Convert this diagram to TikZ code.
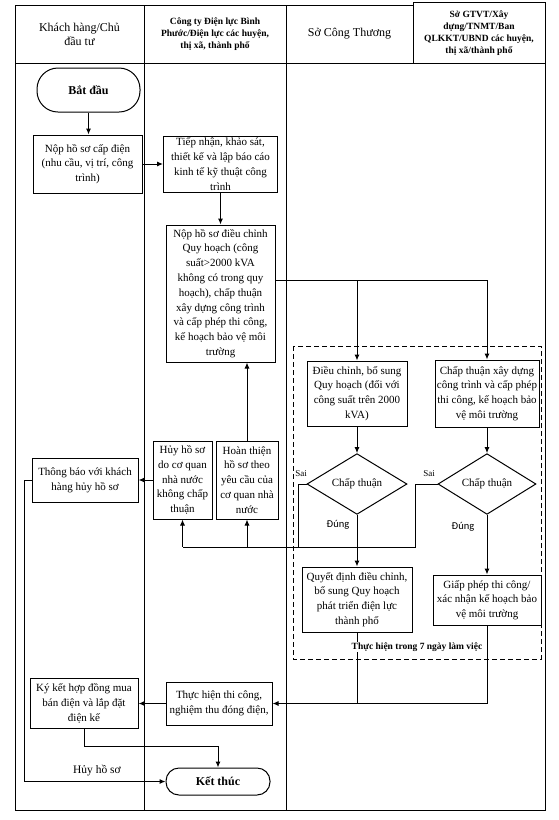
\documentclass[tikz,border=0pt]{standalone}
\usepackage{fontspec}
\setmainfont{Liberation Serif}
\newfontfamily\sansf{Carlito}
\usetikzlibrary{arrows.meta,shapes.geometric}
\begin{document}
\begin{tikzpicture}[x=1pt,y=-1pt,
  lane/.style={line width=1pt},
  ln/.style={line width=1pt},
  bx/.style={draw,line width=1pt,align=center,inner sep=0pt,font=\fontsize{11}{14.8}\selectfont},
  term/.style={draw,line width=1pt,align=center,inner sep=0pt,font=\bfseries\fontsize{12}{14}\selectfont},
  dia/.style={draw,line width=1pt,diamond,inner sep=0pt,font=\fontsize{11}{13}\selectfont},
  arr/.style={line width=1pt,-{Latex[length=6pt,width=5pt]}},
  lbl/.style={inner sep=0pt,font=\fontsize{9}{11}\selectfont},
  slbl/.style={inner sep=0pt,font=\sansf\fontsize{10.5}{12}\selectfont},
  hd/.style={align=center,inner sep=0pt,font=\fontsize{12}{14}\selectfont},
  hdb/.style={align=center,inner sep=0pt,font=\bfseries\fontsize{9.5}{12}\selectfont}]
\useasboundingbox (0,0) rectangle (558,820);
% lanes and header
\draw[lane] (15,5) -- (413,5);
\draw[lane] (413,2) rectangle (545,63);
\draw[lane] (15,5) -- (15,810) -- (545,810) -- (545,63);
\draw[lane] (15,63) -- (413,63);
\draw[lane] (144,5) -- (144,810);
\draw[lane] (286,5) -- (286,810);
\node[hd] (h1) at (79.5,34) {Khách hàng/Chủ\\đầu tư};
\node[hdb] (h2) at (215,34) {Công ty Điện lực Bình\\Phước/Điện lực các huyện,\\thị xã, thành phố};
\node[hd] (h3) at (349.5,34) {Sở Công Thương};
\node[hdb] (h4) at (479,33) {Sở GTVT/Xây\\dựng/TNMT/Ban\\QLKKT/UBND các huyện,\\thị xã/thành phố};
% dashed group
\draw[ln,dash pattern=on 5pt off 3pt] (293,346) rectangle (541,659);
% nodes
\node[term,rounded corners=21pt,minimum width=103pt,minimum height=44pt] (start) at (88.5,90) {Bắt đầu};
\node[bx,minimum width=109pt,minimum height=58pt] (nop1) at (87.5,164) {Nộp hồ sơ cấp điện\\(nhu cầu, vị trí, công\\trình)};
\node[bx,minimum width=114pt,minimum height=56pt] (tiep) at (220.5,164) {Tiếp nhận, khảo sát,\\thiết kế và lập báo cáo\\kinh tế kỹ thuật công\\trình};
\node[bx,minimum width=109pt,minimum height=137pt] (nop2) at (220.5,293.5) {Nộp hồ sơ điều chỉnh\\Quy hoạch (công\\suất>2000 kVA\\không có trong quy\\hoạch), chấp thuận\\xây dựng công trình\\và cấp phép thi công,\\kế hoạch bảo vệ môi\\trường};
\node[bx,minimum width=100pt,minimum height=65pt] (dc) at (357,393.5) {Điều chỉnh, bổ sung\\Quy hoạch (đối với\\công suất trên 2000\\kVA)};
\node[bx,minimum width=104pt,minimum height=67pt] (cx) at (487,393.5) {Chấp thuận xây dựng\\công trình và cấp phép\\thi công, kế hoạch bảo\\vệ môi trường};
\node[dia,minimum width=100pt,minimum height=60pt] (d1) at (357,484) {Chấp thuận};
\node[dia,minimum width=98pt,minimum height=58pt] (d2) at (487,484) {Chấp thuận};
\node[bx,minimum width=110pt,minimum height=65pt] (qd) at (357,599.5) {Quyết định điều chỉnh,\\bổ sung Quy hoạch\\phát triển điện lực\\thành phố};
\node[bx,minimum width=108pt,minimum height=50pt] (gp) at (487,600) {Giấp phép thi công/\\xác nhận kế hoạch bảo\\vệ môi trường};
\node[bx,minimum width=59pt,minimum height=78pt] (huy) at (182.5,480) {Hủy hồ sơ\\do cơ quan\\nhà nước\\không chấp\\thuận};
\node[bx,minimum width=62pt,minimum height=78pt] (hoan) at (247,480) {Hoàn thiện\\hồ sơ theo\\yêu cầu của\\cơ quan nhà\\nước};
\node[bx,minimum width=106pt,minimum height=44pt] (tb) at (85,480) {Thông báo với khách\\hàng hủy hồ sơ};
\node[bx,minimum width=108pt,minimum height=50pt] (ky) at (84,703.5) {Ký kết hợp đồng mua\\bán điện và lắp đặt\\điện kế};
\node[bx,minimum width=106pt,minimum height=43pt] (th) at (219,703.5) {Thực hiện thi công,\\nghiệm thu đóng điện,};
\node[term,rounded corners=13pt,minimum width=104pt,minimum height=27pt] (kt) at (218,781.5) {Kết thúc};
% coordinates
\coordinate (j1) at (487,280);
\coordinate (s1) at (298,547);
\coordinate (s2) at (415,547);
\coordinate (k1) at (84,746);
\coordinate (t1) at (24,480);
% connectors
\draw[arr] (start.south) -- (start.south |- nop1.north);
\draw[arr] (nop1.east) -- (tiep.west);
\draw[arr] (tiep.south) -- (nop2.north);
\draw[ln] (nop2.east |- j1) -- (j1);
\draw[arr] (dc.north |- j1) -- (dc.north);
\draw[arr] (j1) -- (cx.north);
\draw[arr] (dc.south) -- (d1.north);
\draw[arr] (cx.south) -- (d2.north);
\draw[ln] (d1.west) -- (d1.west -| s1) -- (s1);
\draw[ln] (d2.west) -- (d2.west -| s2) -- (s2) -- (huy.south |- s2);
\draw[arr] (huy.south |- s2) -- (huy.south);
\draw[arr] (hoan.south |- s2) -- (hoan.south);
\draw[arr] (hoan.north) -- (hoan.north |- nop2.south);
\draw[arr] (huy.west) -- (tb.east);
\draw[arr] (d1.south) -- (qd.north);
\draw[arr] (d2.south) -- (gp.north);
\draw[ln] (qd.south) -- (qd.south |- th.east);
\draw[arr] (gp.south) -- (gp.south |- th.east) -- (th.east);
\draw[arr] (th.west) -- (ky.east);
\draw[arr] (ky.south) -- (k1) -- (kt.north |- k1) -- (kt.north);
\draw[arr] (tb.west) -- (t1) -- (t1 |- kt.west) -- (kt.west);
% labels
\node[lbl] (sai1) at (301,474) {Sai};
\node[lbl] (sai2) at (429,474) {Sai};
\node[slbl] (dung1) at (338,525) {Đúng};
\node[slbl] (dung2) at (463,527) {Đúng};
\node[inner sep=0pt,font=\fontsize{11.5}{13}\selectfont] (huylbl) at (97,771) {Hủy hồ sơ};
\node[fill=white,inner sep=1pt,font=\bfseries\fontsize{9.5}{11}\selectfont] (grp) at (417,647) {Thực hiện trong 7 ngày làm việc};
\end{tikzpicture}
\end{document}
